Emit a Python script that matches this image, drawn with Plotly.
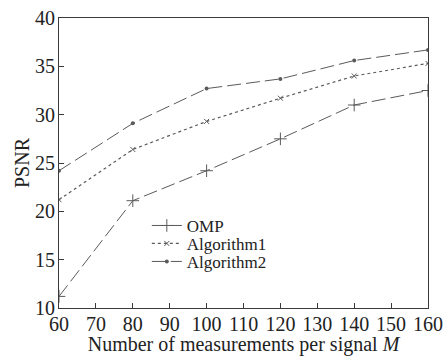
import plotly.graph_objects as go

M = [60, 80, 100, 120, 140, 160]
omp = [11.2, 21.1, 24.2, 27.5, 31.0, 32.5]
alg1 = [21.2, 26.4, 29.3, 31.7, 34.0, 35.3]
alg2 = [24.2, 29.1, 32.7, 33.7, 35.6, 36.7]
xticks = list(range(60, 161, 10))
yticks = [10, 15, 20, 25, 30, 35, 40]

col = "#5a5a5a"
axcol = "#3a3a3a"
font = "Liberation Serif, Times New Roman, serif"

fig = go.Figure()
fig.add_trace(go.Scatter(x=M, y=omp, name="OMP", mode="lines+markers", legend="legend",
                         line=dict(color=col, width=1, dash="14px,5px"),
                         marker=dict(symbol="cross-thin", size=9, color=col,
                                     line=dict(color=col, width=1))))
fig.add_trace(go.Scatter(x=M, y=alg1, name="Algorithm1", mode="lines+markers", legend="legend2",
                         line=dict(color=col, width=1.2, dash="dot"),
                         marker=dict(symbol="x-thin", size=5, color=col,
                                     line=dict(color=col, width=1))))
fig.add_trace(go.Scatter(x=M, y=alg2, name="Algorithm2", mode="lines+markers", legend="legend3",
                         line=dict(color=col, width=1, dash="14px,5px"),
                         marker=dict(symbol="circle", size=4, color=col)))

leg = dict(x=0.238, xanchor="left", yanchor="middle", bgcolor="rgba(0,0,0,0)",
           font=dict(size=17, family=font, color="#222"), itemwidth=30)

fig.update_layout(
    width=446, height=356,
    margin=dict(l=59, r=18, t=18, b=48),
    paper_bgcolor="white", plot_bgcolor="white",
    font=dict(family=font, size=20, color="#222"),
    showlegend=True,
    legend=dict(leg, y=0.283),
    legend2=dict(leg, y=0.221),
    legend3=dict(leg, y=0.159),
    xaxis=dict(range=[60, 160], tickvals=xticks, ticks="inside", ticklen=5,
               tickcolor=axcol, showgrid=False, zeroline=False, automargin=False,
               ticklabeloverflow="allow", ticklabelstandoff=-2,
               showline=True, linecolor=axcol, linewidth=1, mirror=True,
               title=dict(text="Number of measurements per signal <i>M</i>", standoff=5,
                          font=dict(size=20))),
    yaxis=dict(range=[10, 40], tickvals=yticks, ticks="inside", ticklen=5,
               tickcolor=axcol, showgrid=False, zeroline=False, automargin=False,
               ticklabeloverflow="allow", ticklabelstandoff=-1,
               showline=True, linecolor=axcol, linewidth=1, mirror=True,
               title=dict(text="PSNR", standoff=0, font=dict(size=20))),
)
fig.write_html("out.html", config={"displayModeBar": False},
               post_script="document.body.style.margin='0';")
